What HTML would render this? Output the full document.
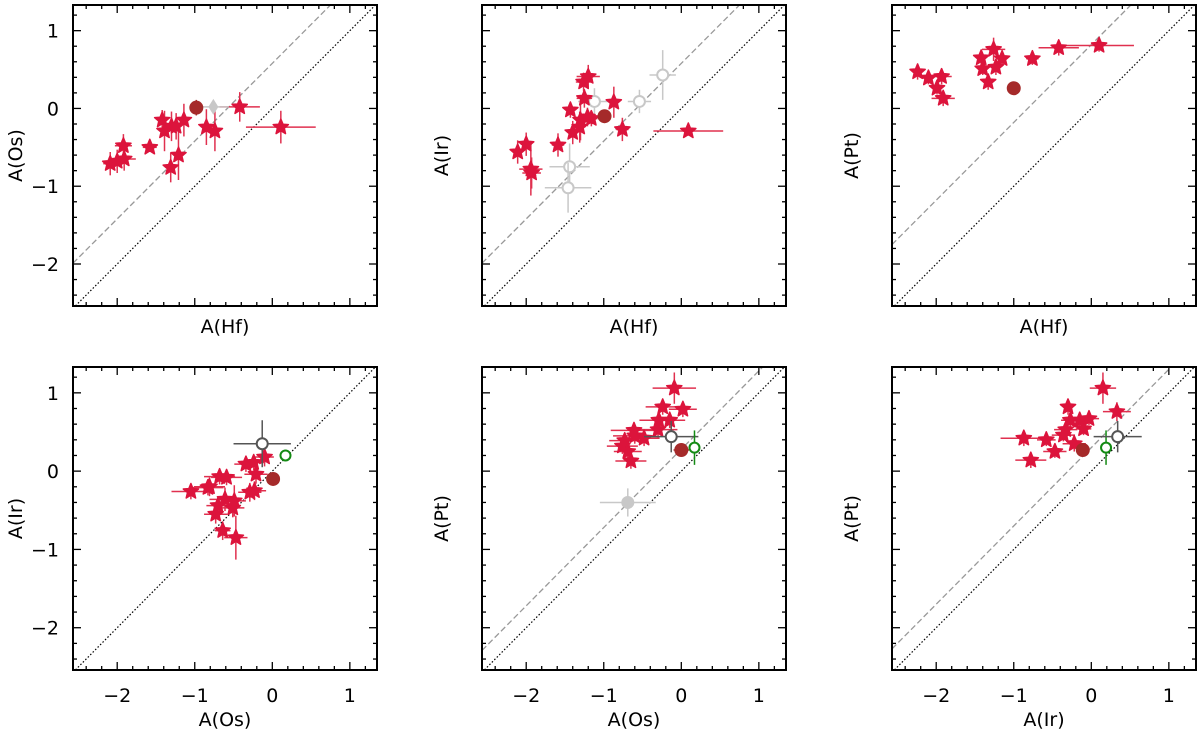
<!DOCTYPE html>
<html><head><meta charset="utf-8"><style>
body{margin:0;background:#fff;width:1200px;height:733px;overflow:hidden}
svg{font-family:"DejaVu Sans","Liberation Sans",sans-serif}
</style></head><body>
<svg id="fig" width="1200" height="733" viewBox="0 0 1200 733"></svg>
<script>
// Panel 1: A(Hf) vs A(Os)
const p1StarX=[-2.09,-2.00,-1.91,-1.92,-1.58,-1.42,-1.39,-1.30,-1.24,-1.14,-1.31,-1.21,-0.85,-0.74,-0.42,0.11];
const p1StarY=[-0.71,-0.68,-0.65,-0.48,-0.50,-0.15,-0.29,-0.23,-0.23,-0.15,-0.76,-0.60,-0.24,-0.29,0.02,-0.24];
const p1StarXe=[0.09,0.08,0.15,0.11,0.09,0.05,0.05,0.05,0.05,0.05,0.05,0.05,0.06,0.06,0.26,0.45];
const p1StarYe=[0.15,0.15,0.15,0.15,0.05,0.13,0.26,0.19,0.17,0.21,0.19,0.32,0.23,0.26,0.19,0.21];
const p1BrownX=[-0.98], p1BrownY=[0.01];
const p1DiamX=[-0.76], p1DiamY=[0.02], p1DiamXe=[0.2];
// Panel 2: A(Hf) vs A(Ir)
const p2StarX=[-2.11,-2.00,-1.94,-1.93,-1.59,-1.43,-1.40,-1.31,-1.30,-1.25,-1.26,-1.20,-1.21,-1.16,-0.87,-0.76,0.09];
const p2StarY=[-0.56,-0.46,-0.78,-0.83,-0.47,-0.02,-0.31,-0.24,-0.15,0.13,0.34,0.41,-0.11,-0.13,0.08,-0.27,-0.29];
const p2StarXe=[0.06,0.07,0.15,0.12,0.08,0.06,0.06,0.06,0.06,0.1,0.1,0.15,0.1,0.08,0.06,0.08,0.45];
const p2StarYe=[0.15,0.15,0.34,0.2,0.15,0.1,0.15,0.2,0.26,0.12,0.12,0.15,0.12,0.1,0.2,0.15,0.06];
const p2BrownX=[-0.99], p2BrownY=[-0.10];
const p2OpenX=[-1.12,-0.54,-0.24,-1.44,-1.46];
const p2OpenY=[0.09,0.09,0.43,-0.75,-1.02];
const p2OpenXe=[0.21,0.15,0.17,0.26,0.3];
const p2OpenYe=[0.17,0.15,0.32,0.3,0.32];
// Panel 3: A(Hf) vs A(Pt)
const p3StarX=[-2.24,-2.10,-1.93,-1.99,-1.91,-1.42,-1.26,-1.15,-1.40,-1.23,-1.33,-0.76,-0.42,0.10];
const p3StarY=[0.47,0.39,0.41,0.26,0.13,0.65,0.76,0.64,0.51,0.53,0.34,0.64,0.78,0.81];
const p3StarXe=[0.06,0.06,0.13,0.06,0.15,0.06,0.15,0.06,0.06,0.06,0.06,0.08,0.26,0.45];
const p3StarYe=[0.1,0.08,0.1,0.08,0.1,0.08,0.15,0.1,0.08,0.1,0.1,0.08,0.1,0.08];
const p3BrownX=[-1.00], p3BrownY=[0.26];
// Panel 4: A(Os) vs A(Ir)
const p4StarX=[-1.05,-0.83,-0.81,-0.68,-0.59,-0.70,-0.73,-0.61,-0.51,-0.49,-0.64,-0.47,-0.34,-0.24,-0.10,-0.21,-0.29,-0.23];
const p4StarY=[-0.26,-0.21,-0.20,-0.07,-0.08,-0.44,-0.55,-0.36,-0.47,-0.38,-0.76,-0.85,0.09,0.11,0.18,-0.04,-0.27,-0.25];
const p4StarXe=[0.25,0.2,0.2,0.2,0.2,0.15,0.15,0.2,0.15,0.15,0.1,0.15,0.15,0.15,0.12,0.15,0.15,0.15];
const p4StarYe=[0.1,0.1,0.12,0.1,0.1,0.12,0.12,0.15,0.12,0.2,0.12,0.28,0.1,0.1,0.12,0.12,0.12,0.12];
const p4BrownX=[0.01], p4BrownY=[-0.10];
const p4GreyX=[-0.13], p4GreyY=[0.35], p4GreyXe=[0.37], p4GreyYe=[0.3];
const p4GreenX=[0.17], p4GreenY=[0.20];
// Panel 5: A(Os) vs A(Pt)
const p5StarX=[-0.09,-0.24,0.02,-0.29,-0.15,-0.61,-0.30,-0.60,-0.48,-0.73,-0.76,-0.69,-0.65];
const p5StarY=[1.06,0.82,0.79,0.65,0.65,0.52,0.53,0.45,0.42,0.39,0.32,0.25,0.13];
const p5StarXe=[0.28,0.22,0.18,0.25,0.2,0.3,0.25,0.28,0.2,0.2,0.2,0.18,0.2];
const p5StarYe=[0.2,0.1,0.1,0.1,0.1,0.1,0.1,0.1,0.1,0.1,0.1,0.1,0.1];
const p5BrownX=[0.00], p5BrownY=[0.27];
const p5GreyX=[-0.13], p5GreyY=[0.44], p5GreyXe=[0.35], p5GreyYe=[0.2];
const p5GreenX=[0.17], p5GreenY=[0.30], p5GreenYe=[0.22];
const p5LightX=[-0.69], p5LightY=[-0.40], p5LightXe=[0.36], p5LightYe=[0.18];
// Panel 6: A(Ir) vs A(Pt)
const p6StarX=[0.15,0.33,-0.30,-0.27,-0.15,-0.03,-0.10,-0.33,-0.36,-0.87,-0.58,-0.22,-0.47,-0.78];
const p6StarY=[1.06,0.76,0.82,0.65,0.65,0.67,0.54,0.53,0.46,0.42,0.40,0.35,0.25,0.14];
const p6StarXe=[0.17,0.18,0.06,0.12,0.1,0.13,0.1,0.15,0.15,0.3,0.12,0.15,0.15,0.2];
const p6StarYe=[0.2,0.12,0.1,0.08,0.08,0.08,0.08,0.08,0.08,0.1,0.08,0.1,0.08,0.1];
const p6BrownX=[-0.11], p6BrownY=[0.27];
const p6GreenX=[0.19], p6GreenY=[0.30], p6GreenYe=[0.22];
const p6GreyX=[0.34], p6GreyY=[0.44], p6GreyXe=[0.31], p6GreyYe=[0.2];
const tickVals=[-2,-1,0,1];
const tickLabels=["\u22122","\u22121","0","1"];
const xMin=-2.57,xMax=1.35,yMin=-2.54,yMax=1.33;

const NS="http://www.w3.org/2000/svg";
const svg=document.getElementById('fig');
function mk(tag,attrs,parent){const e=document.createElementNS(NS,tag);for(const k in attrs)e.setAttribute(k,attrs[k]);(parent||svg).appendChild(e);return e;}

const cols=[73,482,892], rows=[[5,306],[367,670]], W=304;
const panels=[
 {c:0,r:0,xt:"A(Hf)",yt:"A(Os)",off:0.58},
 {c:1,r:0,xt:"A(Hf)",yt:"A(Ir)",off:0.58},
 {c:2,r:0,xt:"A(Hf)",yt:"A(Pt)",off:0.82},
 {c:0,r:1,xt:"A(Os)",yt:"A(Ir)",off:null},
 {c:1,r:1,xt:"A(Os)",yt:"A(Pt)",off:0.28},
 {c:2,r:1,xt:"A(Ir)",yt:"A(Pt)",off:0.30}];

function starPts(cx,cy,R){const r=R*0.45;let s=[];for(let i=0;i<10;i++){const a=-Math.PI/2+i*Math.PI/5;const rr=i%2?r:R;s.push((cx+rr*Math.cos(a)).toFixed(1)+","+(cy+rr*Math.sin(a)).toFixed(1));}return s.join(" ");}

panels.forEach((p,pi)=>{
 const L=cols[p.c], T=rows[p.r][0], B=rows[p.r][1];
 const sx=v=>L+(v-xMin)/(xMax-xMin)*W;
 const sy=v=>B-(v-yMin)/(yMax-yMin)*(B-T);
 p.sx=sx;p.sy=sy;
 const g=mk('g',{});
 
 
 const clip=mk('clipPath',{id:'cl'+pi},g);mk('rect',{x:L,y:T,width:W,height:B-T},clip);
 const plot=mk('g',{'clip-path':'url(#cl'+pi+')'},g);
 const dl=mk('line',{x1:sx(xMin),y1:sy(xMin),x2:sx(xMax),y2:sy(xMax),stroke:'#000','stroke-width':1.2,'stroke-dasharray':'1.5,2'},plot);
 
 
 if(p.off!==null){const l=mk('line',{x1:sx(xMin),y1:sy(xMin+p.off),x2:sx(xMax),y2:sy(xMax+p.off),stroke:'#999','stroke-width':1.3,'stroke-dasharray':'6,3'},plot);
  
  }
 p.plot=plot;
 const tg=mk('g',{stroke:'#000','stroke-width':1.3},g);
 for(let k=-13;k<=7;k++){const v=k*0.2;const major=Math.abs(v-Math.round(v))<1e-6;const len=major?8:4;
  if(v>=xMin&&v<=xMax){const x=sx(v);mk('line',{x1:x,y1:B,x2:x,y2:B-len},tg);mk('line',{x1:x,y1:T,x2:x,y2:T+len},tg);}
  if(v>=yMin&&v<=yMax){const y=sy(v);mk('line',{x1:L,y1:y,x2:L+len,y2:y},tg);mk('line',{x1:L+W,y1:y,x2:L+W-len,y2:y},tg);}}
 const fr=mk('rect',{x:L,y:T,width:W,height:B-T,fill:'none',stroke:'#000','stroke-width':2},g);
 
 
 tickVals.forEach((v,i)=>{
  if(p.r===1){const t=mk('text',{x:sx(v),y:B+32,'font-size':19,'text-anchor':'middle'},g);t.textContent=tickLabels[i];
   
   }
  if(p.c===0){const t=mk('text',{x:L-14,y:sy(v)+7,'font-size':19,'text-anchor':'end'},g);t.textContent=tickLabels[i];
   
   }
 });
 const xt=mk('text',{x:L+W/2,y:B+(p.r===1?56:27),'font-size':19,'text-anchor':'middle'},g);xt.textContent=p.xt;
 
 
 const yx=p.c===0?22:L-34;
 const yt=mk('text',{x:yx,y:(T+B)/2,'font-size':19,'text-anchor':'middle',transform:`rotate(-90 ${yx} ${(T+B)/2})`},g);yt.textContent=p.yt;
 
 
});

function ebar(p,x,y,xe,ye,col){const g=p.plot;
 if(xe)mk('line',{x1:p.sx(x-xe),y1:p.sy(y),x2:p.sx(x+xe),y2:p.sy(y),stroke:col,'stroke-width':1.5},g);
 if(ye)mk('line',{x1:p.sx(x),y1:p.sy(y-ye),x2:p.sx(x),y2:p.sy(y+ye),stroke:col,'stroke-width':1.5},g);}
function stars(p,X,Y,XE,YE){X.forEach((x,i)=>{ebar(p,x,Y[i],XE[i],YE[i],'#e0304f');});
 X.forEach((x,i)=>{const s=mk('polygon',{points:starPts(p.sx(x),p.sy(Y[i]),8),fill:'#dc143c',stroke:'#dc143c','stroke-width':1.5,'stroke-linejoin':'round'},p.plot);
  
  });}
function circ(p,X,Y,XE,YE,col,fill,name,r){X.forEach((x,i)=>{ebar(p,x,Y[i],XE?XE[i]:0,YE?YE[i]:0,col);
 const c=mk('circle',{cx:p.sx(x),cy:p.sy(Y[i]),r:r||5.5,fill:fill,stroke:col,'stroke-width':fill==='#fff'?2:1},p.plot);
 
 });}
const P=panels;
stars(P[0],p1StarX,p1StarY,p1StarXe,p1StarYe);
ebar(P[0],p1DiamX[0],p1DiamY[0],p1DiamXe[0],0,'#c8c8c8');
p1DiamX.forEach((x,i)=>{const cx=P[0].sx(x),cy=P[0].sy(p1DiamY[i]);const d=mk('polygon',{points:`${cx},${cy-8} ${cx+5},${cy} ${cx},${cy+8} ${cx-5},${cy}`,fill:'#c8c8c8'},P[0].plot);
 
 });
circ(P[0],p1BrownX,p1BrownY,[0.03],[0.1],'#a52a2a','#a52a2a','sun-point',6.5);
circ(P[1],p2OpenX,p2OpenY,p2OpenXe,p2OpenYe,'#c8c8c8','#fff','open-point',5.5);
stars(P[1],p2StarX,p2StarY,p2StarXe,p2StarYe);
circ(P[1],p2BrownX,p2BrownY,[0.03],[0.06],'#a52a2a','#a52a2a','sun-point',6.5);
stars(P[2],p3StarX,p3StarY,p3StarXe,p3StarYe);
circ(P[2],p3BrownX,p3BrownY,[0.06],[0.06],'#a52a2a','#a52a2a','sun-point',6.5);
stars(P[3],p4StarX,p4StarY,p4StarXe,p4StarYe);
circ(P[3],p4GreyX,p4GreyY,p4GreyXe,p4GreyYe,'#555','#fff','open-point',5.5);
circ(P[3],p4GreenX,p4GreenY,null,null,'#138a13','#fff','green-point',5);
circ(P[3],p4BrownX,p4BrownY,[0.04],[0.06],'#a52a2a','#a52a2a','sun-point',6.5);
circ(P[4],p5LightX,p5LightY,p5LightXe,p5LightYe,'#c8c8c8','#c8c8c8','grey-point',6);
stars(P[4],p5StarX,p5StarY,p5StarXe,p5StarYe);
circ(P[4],p5GreyX,p5GreyY,p5GreyXe,p5GreyYe,'#555','#fff','open-point',5.5);
circ(P[4],p5BrownX,p5BrownY,[0.1],[0.04],'#a52a2a','#a52a2a','sun-point',6.5);
circ(P[4],p5GreenX,p5GreenY,[0],p5GreenYe,'#138a13','#fff','green-point',5);
stars(P[5],p6StarX,p6StarY,p6StarXe,p6StarYe);
circ(P[5],p6BrownX,p6BrownY,[0.05],[0.04],'#a52a2a','#a52a2a','sun-point',6.5);
circ(P[5],p6GreenX,p6GreenY,[0],p6GreenYe,'#138a13','#fff','green-point',5);
circ(P[5],p6GreyX,p6GreyY,p6GreyXe,p6GreyYe,'#555','#fff','open-point',5.5);
</script>
</body></html>
